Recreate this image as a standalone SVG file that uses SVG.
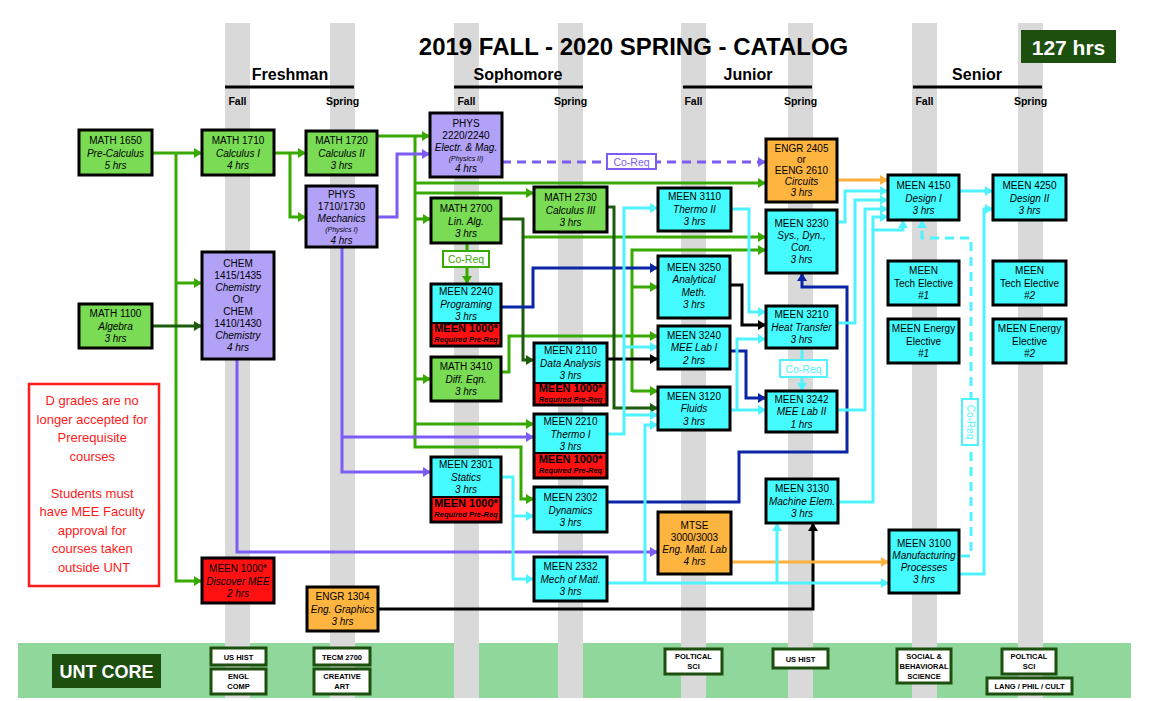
<svg xmlns="http://www.w3.org/2000/svg" width="1159" height="701" viewBox="0 0 1159 701">
<style>
.col{fill:#d9d9d9}
.t{font-family:"Liberation Sans",Arial,Helvetica,sans-serif;font-size:10px;text-anchor:middle;fill:#000}
.i{font-style:italic}
.sm{font-size:7px}
.rb{font-weight:bold;font-size:11px}
.rq{font-weight:bold;font-style:italic;font-size:7.5px}
.hd{font-family:"Liberation Sans",Arial,Helvetica,sans-serif;font-weight:bold;text-anchor:middle;fill:#000}
.nb{stroke:#000;stroke-width:3}
.no{fill:none;stroke:#000;stroke-width:3}
.g{fill:#7adc55}.p{fill:#b1a2f7}.c{fill:#44fcff}.o{fill:#fdb53f}.r{fill:#ff1111}
.ln{fill:none;stroke-width:3}
.lg{stroke:#38a900;marker-end:url(#mg)}
.ld{stroke:#1d5c0c;marker-end:url(#md)}
.lp{stroke:#7b5cf5;marker-end:url(#mp)}
.lb{stroke:#0b25a8;marker-end:url(#mb)}
.lk{stroke:#000;marker-end:url(#mk)}
.lo{stroke:#fdb03c;marker-end:url(#mo)}
.lc{stroke:#4ff3ff;marker-end:url(#mc)}
.dash{stroke-dasharray:9 6}
.core{fill:#fff;stroke:#1d4f0e;stroke-width:3}
.ct{font-family:"Liberation Sans",Arial,Helvetica,sans-serif;font-size:7.5px;font-weight:bold;text-anchor:middle;fill:#000}
</style>
<defs>
<marker id="mg" viewBox="0 0 8 10" refX="8" refY="5" markerWidth="8" markerHeight="10" markerUnits="userSpaceOnUse" orient="auto" preserveAspectRatio="none"><path d="M0,0L8,5L0,10z" fill="#38a900"/></marker>
<marker id="md" viewBox="0 0 8 10" refX="8" refY="5" markerWidth="8" markerHeight="10" markerUnits="userSpaceOnUse" orient="auto" preserveAspectRatio="none"><path d="M0,0L8,5L0,10z" fill="#1d5c0c"/></marker>
<marker id="mp" viewBox="0 0 8 10" refX="8" refY="5" markerWidth="8" markerHeight="10" markerUnits="userSpaceOnUse" orient="auto" preserveAspectRatio="none"><path d="M0,0L8,5L0,10z" fill="#7b5cf5"/></marker>
<marker id="mb" viewBox="0 0 8 10" refX="8" refY="5" markerWidth="8" markerHeight="10" markerUnits="userSpaceOnUse" orient="auto" preserveAspectRatio="none"><path d="M0,0L8,5L0,10z" fill="#0b25a8"/></marker>
<marker id="mk" viewBox="0 0 8 10" refX="8" refY="5" markerWidth="8" markerHeight="10" markerUnits="userSpaceOnUse" orient="auto" preserveAspectRatio="none"><path d="M0,0L8,5L0,10z" fill="#000"/></marker>
<marker id="mo" viewBox="0 0 8 10" refX="8" refY="5" markerWidth="8" markerHeight="10" markerUnits="userSpaceOnUse" orient="auto" preserveAspectRatio="none"><path d="M0,0L8,5L0,10z" fill="#fdb03c"/></marker>
<marker id="mc" viewBox="0 0 8 10" refX="8" refY="5" markerWidth="8" markerHeight="10" markerUnits="userSpaceOnUse" orient="auto" preserveAspectRatio="none"><path d="M0,0L8,5L0,10z" fill="#4ff3ff"/></marker>
</defs>
<rect x="0" y="0" width="1159" height="701" fill="#fff"/>
<g id="background">
<rect x="18" y="643" width="1113" height="55" fill="#8fd79a"/>
<rect class="col" x="225" y="23" width="25" height="675"/>
<rect class="col" x="330" y="23" width="25" height="675"/>
<rect class="col" x="454" y="23" width="25" height="675"/>
<rect class="col" x="558" y="23" width="25" height="675"/>
<rect class="col" x="681" y="23" width="25" height="675"/>
<rect class="col" x="788" y="23" width="25" height="675"/>
<rect class="col" x="912" y="23" width="25" height="675"/>
<rect class="col" x="1018" y="23" width="25" height="675"/>
</g>
<g id="headers">
<text class="hd" x="633.5" y="55" font-size="24">2019 FALL - 2020 SPRING - CATALOG</text>
<rect x="1021" y="30" width="95" height="33" fill="#1d4f0e"/>
<text class="hd" x="1068.5" y="55" font-size="21" fill="#fff" style="fill:#fff">127 hrs</text>
<text class="hd" x="290" y="80" font-size="16">Freshman</text>
<text class="hd" x="518" y="80" font-size="16">Sophomore</text>
<text class="hd" x="748" y="80" font-size="16">Junior</text>
<text class="hd" x="977" y="80" font-size="16">Senior</text>
<path d="M225,87H354M454,87H583M683,87H812M913,87H1042" stroke="#000" stroke-width="3" fill="none"/>
<g class="hd" font-size="10.5">
<text class="hd" x="237.5" y="105">Fall</text>
<text class="hd" x="342.5" y="105">Spring</text>
<text class="hd" x="466.5" y="105">Fall</text>
<text class="hd" x="570.5" y="105">Spring</text>
<text class="hd" x="693.5" y="105">Fall</text>
<text class="hd" x="800.5" y="105">Spring</text>
<text class="hd" x="924.5" y="105">Fall</text>
<text class="hd" x="1030.5" y="105">Spring</text>
</g>
</g>
<g id="connectors">
<path class="ln lg" d="M152,153H202"/>
<path class="ln lg" d="M176,153V581H202"/>
<path class="ln lg" d="M176,283H202"/>
<path class="ln lg" d="M274,153H306"/>
<path class="ln lg" d="M290,153V217H306"/>
<path class="ln lg" d="M377,136H430"/>
<path class="ln lg" d="M415,136V447H521V499H534"/>
<path class="ln lg" d="M415,183H766"/>
<path class="ln lg" d="M415,193H534"/>
<path class="ln lg" d="M415,219H431"/>
<path class="ln lg" d="M415,379H431"/>
<path class="ln lg" d="M415,424H534"/>
<path class="ln lg" d="M523,237H766"/>
<path class="ln lg" d="M501,372H509V336H658"/>
<path class="ln lg" d="M632,392V250H766"/>
<path class="ln lg" d="M632,391H658"/>
<path class="ln lg" d="M632,287H658"/>
<path class="ln lg" d="M467,243V284"/>
<path class="ln ld" d="M152,326H202"/>
<path class="ln ld" d="M501,219H523V360H534"/>
<path class="ln ld" d="M607,207H614V408H658"/>
<path class="ln lp" d="M377,217H397V154H430"/>
<path class="ln lp" d="M342,247V472H431"/>
<path class="ln lp" d="M342,437H534"/>
<path class="ln lp" d="M237,359V552H658"/>
<path class="ln lp dash" d="M502,162H766"/>
<path class="ln lb" d="M501,307H533V268H658"/>
<path class="ln lb" d="M730,351H746V398H766"/>
<path class="ln lb" d="M607,502H739V452H847V287H802V273"/>
<path class="ln lk" d="M607,359H658"/>
<path class="ln lk" d="M730,285H742V325H766"/>
<path class="ln lk" d="M378,609H813V523"/>
<path class="ln lo" d="M837,180H888"/>
<path class="ln lo" d="M731,562H889"/>
<path class="ln lc" d="M607,434H624V208H658"/>
<path class="ln lc" d="M624,347H658"/>
<path class="ln lc" d="M624,415H658"/>
<path class="ln lc" d="M501,477H513V579H534"/>
<path class="ln lc" d="M513,516H534"/>
<path class="ln lc" d="M607,583H889"/>
<path class="ln lc" d="M645,583V425H658"/>
<path class="ln lc" d="M777,583V523"/>
<path class="ln lc" d="M731,209H749V312H766"/>
<path class="ln lc" d="M730,410H766"/>
<path class="ln lc" d="M737,410V339H766"/>
<path class="ln lc" d="M837,222H845V191H888"/>
<path class="ln lc" d="M837,323H855V200H888"/>
<path class="ln lc" d="M837,410H865V209H888"/>
<path class="ln lc" d="M838,502H873V230H903V220"/>
<path class="ln lc" d="M873,231V217H888"/>
<path class="ln lc" d="M960,191H993"/>
<path class="ln lc" d="M959,574H984V209H993"/>
<path class="ln lc dash" d="M961,556H971V238H922V220"/>
<path class="ln lc" d="M802,348V391"/>
<rect x="607" y="154" width="49" height="15" fill="#fff" stroke="#7b5cf5" stroke-width="2"/>
<text class="t" x="631.5" y="165.5" font-size="10.5" style="fill:#7b5cf5;font-size:10.5px">Co-Req</text>
<rect x="443" y="251" width="46" height="16" fill="#fff" stroke="#38a900" stroke-width="2"/>
<text class="t" x="466" y="263" style="fill:#38a900;font-size:10.5px">Co-Req</text>
<rect x="780" y="360" width="47" height="17" fill="#fff" stroke="#4ff3ff" stroke-width="2"/>
<text class="t" x="803.5" y="372.5" style="fill:#4ff3ff;font-size:10.5px">Co-Req</text>
<rect x="962" y="399" width="16" height="46" fill="#fff" stroke="#4ff3ff" stroke-width="2"/>
<text class="t" x="0" y="0" transform="translate(966.5,422) rotate(90)" style="fill:#4ff3ff;font-size:10px">Co-Req</text>
</g>
<g id="note">
<rect x="29" y="384" width="130" height="202" fill="#fff" stroke="#ff1a1a" stroke-width="2.5"/>
<text class="t" style="fill:#ff1a1a;font-size:13px">
<tspan x="94" y="405">D grades are no</tspan>
<tspan x="94" y="423.5">longer accepted for</tspan>
<tspan x="94" y="442">Prerequisite</tspan>
<tspan x="94" y="460.5">courses</tspan>
<tspan x="94" y="497.5">Students must</tspan>
<tspan x="94" y="516">have MEE Faculty</tspan>
<tspan x="94" y="534.5">approval for</tspan>
<tspan x="94" y="553">courses taken</tspan>
<tspan x="94" y="571.5">outside UNT</tspan>
</text>
</g>
<g id="n-math1650"><rect class="nb g" x="79" y="130" width="73" height="45"/><text class="t"><tspan x="115.5" y="144">MATH 1650</tspan><tspan class="i" x="115.5" y="156.5">Pre-Calculus</tspan><tspan class="i" x="115.5" y="169">5 hrs</tspan></text></g>
<g id="n-math1710"><rect class="nb g" x="202" y="130" width="72" height="45"/><text class="t"><tspan x="238" y="144">MATH 1710</tspan><tspan class="i" x="238" y="156.5">Calculus I</tspan><tspan class="i" x="238" y="169">4 hrs</tspan></text></g>
<g id="n-math1100"><rect class="nb g" x="79" y="304" width="73" height="44"/><text class="t"><tspan x="115.5" y="317">MATH 1100</tspan><tspan class="i" x="115.5" y="329.5">Algebra</tspan><tspan class="i" x="115.5" y="342">3 hrs</tspan></text></g>
<g id="n-chem"><rect class="nb p" x="202" y="252" width="72" height="107"/><text class="t"><tspan x="238" y="267">CHEM</tspan><tspan x="238" y="279">1415/1435</tspan><tspan class="i" x="238" y="291">Chemistry</tspan><tspan x="238" y="303">Or</tspan><tspan x="238" y="315">CHEM</tspan><tspan x="238" y="327">1410/1430</tspan><tspan class="i" x="238" y="339">Chemistry</tspan><tspan class="i" x="238" y="351">4 hrs</tspan></text></g>
<g id="n-meen1000"><rect class="nb r" x="202" y="558" width="72" height="45"/><text class="t"><tspan x="238" y="572">MEEN 1000*</tspan><tspan class="i" x="238" y="584.5">Discover MEE</tspan><tspan class="i" x="238" y="597">2 hrs</tspan></text></g>
<g id="n-math1720"><rect class="nb g" x="306" y="131" width="71" height="44"/><text class="t"><tspan x="341.5" y="144">MATH 1720</tspan><tspan class="i" x="341.5" y="156.5">Calculus II</tspan><tspan class="i" x="341.5" y="169">3 hrs</tspan></text></g>
<g id="n-phys1710"><rect class="nb p" x="306" y="186" width="71" height="61"/><text class="t"><tspan x="341.5" y="198">PHYS</tspan><tspan x="341.5" y="210">1710/1730</tspan><tspan class="i" x="341.5" y="222">Mechanics</tspan><tspan class="i sm" x="341.5" y="232">(Physics I)</tspan><tspan class="i" x="341.5" y="243.5">4 hrs</tspan></text></g>
<g id="n-engr1304"><rect class="nb o" x="307" y="587" width="71" height="44"/><text class="t"><tspan x="342.5" y="600">ENGR 1304</tspan><tspan class="i" x="342.5" y="612.5">Eng. Graphics</tspan><tspan class="i" x="342.5" y="625">3 hrs</tspan></text></g>
<g id="n-phys2220"><rect class="nb p" x="430" y="113" width="72" height="64"/><text class="t"><tspan x="466" y="127">PHYS</tspan><tspan x="466" y="139">2220/2240</tspan><tspan class="i" x="466" y="151">Electr. &amp; Mag.</tspan><tspan class="i sm" x="466" y="160.5">(Physics II)</tspan><tspan class="i" x="466" y="172">4 hrs</tspan></text></g>
<g id="n-math2700"><rect class="nb g" x="431" y="198" width="70" height="45"/><text class="t"><tspan x="466" y="212">MATH 2700</tspan><tspan class="i" x="466" y="224.5">Lin. Alg.</tspan><tspan class="i" x="466" y="237">3 hrs</tspan></text></g>
<g id="n-meen2240"><rect class="c" x="431" y="284" width="70" height="62"/><text class="t"><tspan x="466" y="295">MEEN 2240</tspan><tspan class="i" x="466" y="307.5">Programing</tspan><tspan class="i" x="466" y="320">3 hrs</tspan></text><rect class="r" x="431" y="323" width="70" height="23"/><path d="M431,323H501" stroke="#000" stroke-width="2"/><text class="t"><tspan class="rb" x="466" y="332">MEEN 1000*</tspan><tspan class="rq" x="466" y="342">Required Pre-Req</tspan></text><rect class="no" x="431" y="284" width="70" height="62"/></g>
<g id="n-math3410"><rect class="nb g" x="431" y="357" width="70" height="44"/><text class="t"><tspan x="466" y="370">MATH 3410</tspan><tspan class="i" x="466" y="382.5">Diff. Eqn.</tspan><tspan class="i" x="466" y="395">3 hrs</tspan></text></g>
<g id="n-meen2301"><rect class="c" x="431" y="457" width="70" height="65"/><text class="t"><tspan x="466" y="468">MEEN 2301</tspan><tspan class="i" x="466" y="480.5">Statics</tspan><tspan class="i" x="466" y="493">3 hrs</tspan></text><rect class="r" x="431" y="497" width="70" height="25"/><path d="M431,497H501" stroke="#000" stroke-width="2"/><text class="t"><tspan class="rb" x="466" y="507">MEEN 1000*</tspan><tspan class="rq" x="466" y="517">Required Pre-Req</tspan></text><rect class="no" x="431" y="457" width="70" height="65"/></g>
<g id="n-math2730"><rect class="nb g" x="534" y="187" width="73" height="45"/><text class="t"><tspan x="570.5" y="201">MATH 2730</tspan><tspan class="i" x="570.5" y="213.5">Calculus III</tspan><tspan class="i" x="570.5" y="226">3 hrs</tspan></text></g>
<g id="n-meen2110"><rect class="c" x="534" y="343" width="73" height="62"/><text class="t"><tspan x="570.5" y="354">MEEN 2110</tspan><tspan class="i" x="570.5" y="366.5">Data Analysis</tspan><tspan class="i" x="570.5" y="379">3 hrs</tspan></text><rect class="r" x="534" y="383" width="73" height="22"/><path d="M534,383H607" stroke="#000" stroke-width="2"/><text class="t"><tspan class="rb" x="570.5" y="392">MEEN 1000*</tspan><tspan class="rq" x="570.5" y="401.5">Required Pre-Req</tspan></text><rect class="no" x="534" y="343" width="73" height="62"/></g>
<g id="n-meen2210"><rect class="c" x="534" y="414" width="73" height="64"/><text class="t"><tspan x="570.5" y="425">MEEN 2210</tspan><tspan class="i" x="570.5" y="437.5">Thermo I</tspan><tspan class="i" x="570.5" y="450">3 hrs</tspan></text><rect class="r" x="534" y="453" width="73" height="25"/><path d="M534,453H607" stroke="#000" stroke-width="2"/><text class="t"><tspan class="rb" x="570.5" y="463">MEEN 1000*</tspan><tspan class="rq" x="570.5" y="473">Required Pre-Req</tspan></text><rect class="no" x="534" y="414" width="73" height="64"/></g>
<g id="n-meen2302"><rect class="nb c" x="534" y="487" width="73" height="45"/><text class="t"><tspan x="570.5" y="501">MEEN 2302</tspan><tspan class="i" x="570.5" y="513.5">Dynamics</tspan><tspan class="i" x="570.5" y="526">3 hrs</tspan></text></g>
<g id="n-meen2332"><rect class="nb c" x="534" y="557" width="73" height="44"/><text class="t"><tspan x="570.5" y="570">MEEN 2332</tspan><tspan class="i" x="570.5" y="582.5">Mech of Matl.</tspan><tspan class="i" x="570.5" y="595">3 hrs</tspan></text></g>
<g id="n-engr2405"><rect class="nb o" x="766" y="139" width="71" height="63"/><text class="t"><tspan x="801.5" y="152">ENGR  2405</tspan><tspan x="801.5" y="163">or</tspan><tspan x="801.5" y="174">EENG 2610</tspan><tspan class="i" x="801.5" y="185">Circuits</tspan><tspan class="i" x="801.5" y="196">3 hrs</tspan></text></g>
<g id="n-meen3110"><rect class="nb c" x="658" y="188" width="73" height="43"/><text class="t"><tspan x="694.5" y="200">MEEN 3110</tspan><tspan class="i" x="694.5" y="212.5">Thermo II</tspan><tspan class="i" x="694.5" y="225">3 hrs</tspan></text></g>
<g id="n-meen3230"><rect class="nb c" x="766" y="210" width="71" height="63"/><text class="t"><tspan x="801.5" y="227">MEEN 3230</tspan><tspan class="i" x="801.5" y="239">Sys., Dyn.,</tspan><tspan class="i" x="801.5" y="251">Con.</tspan><tspan class="i" x="801.5" y="263">3 hrs</tspan></text></g>
<g id="n-meen3250"><rect class="nb c" x="658" y="256" width="72" height="62"/><text class="t"><tspan x="694" y="271">MEEN 3250</tspan><tspan class="i" x="694" y="283">Analytical</tspan><tspan class="i" x="694" y="296">Meth.</tspan><tspan class="i" x="694" y="308">3 hrs</tspan></text></g>
<g id="n-meen3240"><rect class="nb c" x="658" y="326" width="72" height="43"/><text class="t"><tspan x="694" y="339">MEEN 3240</tspan><tspan class="i" x="694" y="351">MEE Lab I</tspan><tspan class="i" x="694" y="364">2 hrs</tspan></text></g>
<g id="n-meen3120"><rect class="nb c" x="658" y="387" width="72" height="43"/><text class="t"><tspan x="694" y="400">MEEN 3120</tspan><tspan class="i" x="694" y="412">Fluids</tspan><tspan class="i" x="694" y="425">3 hrs</tspan></text></g>
<g id="n-meen3210"><rect class="nb c" x="766" y="306" width="71" height="42"/><text class="t"><tspan x="801.5" y="318">MEEN 3210</tspan><tspan class="i" x="801.5" y="330.5">Heat Transfer</tspan><tspan class="i" x="801.5" y="343">3 hrs</tspan></text></g>
<g id="n-meen3242"><rect class="nb c" x="766" y="391" width="71" height="41"/><text class="t"><tspan x="801.5" y="403">MEEN 3242</tspan><tspan class="i" x="801.5" y="415">MEE Lab II</tspan><tspan class="i" x="801.5" y="427.5">1 hrs</tspan></text></g>
<g id="n-meen3130"><rect class="nb c" x="766" y="479" width="72" height="44"/><text class="t"><tspan x="802" y="492">MEEN 3130</tspan><tspan class="i" x="802" y="504.5">Machine Elem.</tspan><tspan class="i" x="802" y="517">3 hrs</tspan></text></g>
<g id="n-mtse3000"><rect class="nb o" x="658" y="512" width="73" height="62"/><text class="t"><tspan x="694.5" y="529">MTSE</tspan><tspan x="694.5" y="541">3000/3003</tspan><tspan class="i" x="694.5" y="553">Eng. Matl. Lab</tspan><tspan class="i" x="694.5" y="565">4 hrs</tspan></text></g>
<g id="n-meen3100"><rect class="nb c" x="889" y="530" width="70" height="63"/><text class="t"><tspan x="924" y="547">MEEN 3100</tspan><tspan class="i" x="924" y="559">Manufacturing</tspan><tspan class="i" x="924" y="571">Processes</tspan><tspan class="i" x="924" y="583">3 hrs</tspan></text></g>
<g id="n-meen4150"><rect class="nb c" x="888" y="175" width="71" height="45"/><text class="t"><tspan x="923.5" y="189">MEEN 4150</tspan><tspan class="i" x="923.5" y="201.5">Design I</tspan><tspan class="i" x="923.5" y="214">3 hrs</tspan></text></g>
<g id="n-meen4250"><rect class="nb c" x="993" y="175" width="73" height="45"/><text class="t"><tspan x="1029.5" y="189">MEEN 4250</tspan><tspan class="i" x="1029.5" y="201.5">Design II</tspan><tspan class="i" x="1029.5" y="214">3 hrs</tspan></text></g>
<g id="n-tech1"><rect class="nb c" x="888" y="261" width="71" height="44"/><text class="t"><tspan x="923.5" y="274">MEEN</tspan><tspan x="923.5" y="286.5">Tech Elective</tspan><tspan class="i" x="923.5" y="299">#1</tspan></text></g>
<g id="n-energy1"><rect class="nb c" x="888" y="319" width="71" height="44"/><text class="t"><tspan x="923.5" y="332">MEEN Energy</tspan><tspan x="923.5" y="344.5">Elective</tspan><tspan class="i" x="923.5" y="357">#1</tspan></text></g>
<g id="n-tech2"><rect class="nb c" x="993" y="261" width="73" height="44"/><text class="t"><tspan x="1029.5" y="274">MEEN</tspan><tspan x="1029.5" y="286.5">Tech Elective</tspan><tspan class="i" x="1029.5" y="299">#2</tspan></text></g>
<g id="n-energy2"><rect class="nb c" x="993" y="319" width="73" height="44"/><text class="t"><tspan x="1029.5" y="332">MEEN Energy</tspan><tspan x="1029.5" y="344.5">Elective</tspan><tspan class="i" x="1029.5" y="357">#2</tspan></text></g>
<g id="core">
<rect x="52" y="654" width="109" height="34" fill="#1d4f0e"/>
<text class="hd" x="106.5" y="678" font-size="18" style="fill:#fff">UNT CORE</text>
<rect class="core" x="211" y="648" width="55" height="17"/><text class="ct" x="238.5" y="659.5">US HIST</text>
<rect class="core" x="211" y="669" width="55" height="25"/><text class="ct"><tspan x="238.5" y="679">ENGL</tspan><tspan x="238.5" y="689">COMP</tspan></text>
<rect class="core" x="314" y="648" width="56" height="17"/><text class="ct" x="342" y="659.5">TECM 2700</text>
<rect class="core" x="314" y="669" width="56" height="25"/><text class="ct"><tspan x="342" y="679">CREATIVE</tspan><tspan x="342" y="689">ART</tspan></text>
<rect class="core" x="665" y="649" width="57" height="25"/><text class="ct"><tspan x="693.5" y="659">POLTICAL</tspan><tspan x="693.5" y="669">SCI</tspan></text>
<rect class="core" x="773" y="649" width="55" height="19"/><text class="ct" x="800.5" y="661.5">US HIST</text>
<rect class="core" x="897" y="649" width="54" height="34"/><text class="ct"><tspan x="924" y="659">SOCIAL &amp;</tspan><tspan x="924" y="669">BEHAVIORAL</tspan><tspan x="924" y="679">SCIENCE</tspan></text>
<rect class="core" x="1002" y="649" width="54" height="25"/><text class="ct"><tspan x="1029" y="659">POLTICAL</tspan><tspan x="1029" y="669">SCI</tspan></text>
<rect class="core" x="987" y="678" width="85" height="16"/><text class="ct" x="1029.5" y="689">LANG / PHIL / CULT</text>
</g>
</svg>
